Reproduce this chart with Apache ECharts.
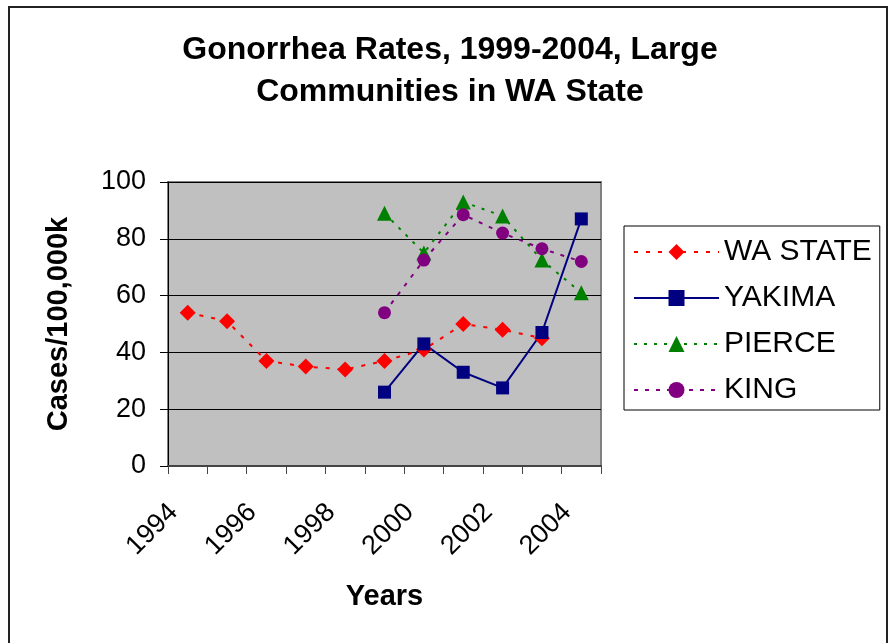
<!DOCTYPE html>
<html>
<head>
<meta charset="utf-8">
<script src="https://cdn.jsdelivr.net/npm/echarts@6/dist/echarts.min.js"></script>
<style>
  html, body { margin: 0; padding: 0; background: #fff; }
  #chart { width: 890px; height: 643px; }
</style>
</head>
<body>
<div id="chart"></div>
<script>
// categories and series values
const years = ['1994', '1995', '1996', '1997', '1998', '1999', '2000', '2001', '2002', '2003', '2004']
const waState = [54, 51, 37, 35, 34, 37, 41, 50, 48, 45, null]
const yakima = [null, null, null, null, null, 26, 43, 33, 27.5, 47, 87]
const pierce = [null, null, null, null, null, 89, 75, 93, 88, 72.5, 61]
const king = [null, null, null, null, null, 54, 72.5, 88.5, 82, 76.5, 72]

const font = 'Liberation Sans, Arial, sans-serif'
const chart = echarts.init(document.getElementById('chart'))

// one line series, style passed in
function lineSeries(name, data, color, symbol, size, lineType) {
  return {
    name: name,
    type: 'line',
    data: data,
    symbol: symbol,
    symbolSize: size,
    showSymbol: true,
    connectNulls: false,
    itemStyle: { color: color },
    lineStyle: { color: color, width: 2, type: lineType },
    emphasis: { disabled: true },
  }
}

chart.setOption({
  animation: false,
  backgroundColor: '#fff',
  textStyle: { fontFamily: font },
  title: {
    text: 'Gonorrhea Rates, 1999-2004, Large\nCommunities in WA State',
    left: 450,
    top: 29,
    padding: 0,
    textAlign: 'center',
    textStyle: {
      fontFamily: font,
      fontSize: 32,
      fontWeight: 'bold',
      color: '#000',
      lineHeight: 42,
    },
  },
  graphic: [
    {
      // outer chart border
      type: 'rect',
      shape: { x: 9, y: 7, width: 878, height: 650 },
      style: { fill: 'none', stroke: '#222', lineWidth: 2 },
      silent: true,
    },
  ],
  legend: {
    orient: 'vertical',
    left: 624,
    top: 226,
    padding: [11, 8, 5, 9],
    itemGap: 16,
    itemWidth: 85,
    itemHeight: 20,
    backgroundColor: '#fff',
    borderColor: '#000',
    borderWidth: 1,
    textStyle: { fontFamily: font, fontSize: 30, color: '#000', lineHeight: 30 },
    data: ['WA STATE', 'YAKIMA', 'PIERCE', 'KING'],
  },
  grid: {
    left: 168,
    right: 289,
    top: 182,
    bottom: 177,
    show: true,
    backgroundColor: '#c0c0c0',
    borderColor: '#808080',
    borderWidth: 2,
  },
  xAxis: {
    type: 'category',
    data: years,
    boundaryGap: true,
    name: 'Years',
    nameLocation: 'middle',
    nameGap: 116,
    nameTextStyle: { fontFamily: font, fontSize: 29, fontWeight: 'bold', color: '#000' },
    axisLine: { lineStyle: { color: '#444', width: 2 } },
    axisTick: { show: true, interval: 0, length: 8, lineStyle: { color: '#444', width: 1 } },
    axisLabel: {
      interval: 1,
      rotate: 45,
      fontFamily: font,
      fontSize: 27,
      color: '#000',
      margin: 28,
      padding: [0, 20, 0, 0],
    },
    splitLine: { show: false },
  },
  yAxis: {
    type: 'value',
    min: 0,
    max: 100,
    interval: 20,
    name: 'Cases/100,000k',
    nameLocation: 'middle',
    nameGap: 95,
    nameTextStyle: { fontFamily: font, fontSize: 29, fontWeight: 'bold', color: '#000' },
    axisLine: { show: true, lineStyle: { color: '#000', width: 1 } },
    axisTick: { show: true, length: 8, lineStyle: { color: '#000' } },
    axisLabel: { fontFamily: font, fontSize: 27, color: '#000', margin: 22 },
    splitLine: { show: true, lineStyle: { color: '#000', width: 1 } },
  },
  series: [
    lineSeries('WA STATE', waState, '#ff0000', 'diamond', 16, [4, 8]),
    lineSeries('YAKIMA', yakima, '#000080', 'rect', 13, 'solid'),
    lineSeries('PIERCE', pierce, '#008000', 'triangle', 15, [3, 7]),
    lineSeries('KING', king, '#800080', 'circle', 13, [4, 7]),
  ],
})
</script>
</body>
</html>
